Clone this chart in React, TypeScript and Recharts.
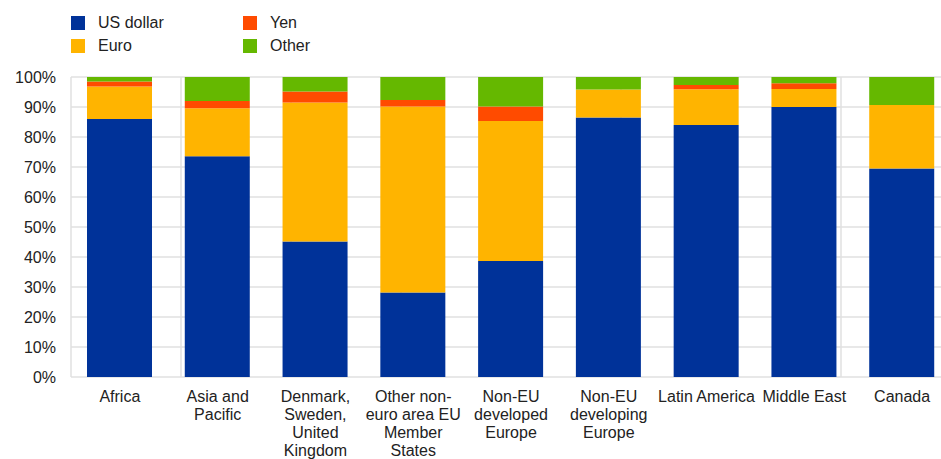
import { BarChart, Bar, XAxis, YAxis, CartesianGrid } from 'recharts';

const regions = [
  'Africa',
  'Asia and Pacific',
  'Denmark, Sweden, United Kingdom',
  'Other non-euro area EU Member States',
  'Non-EU developed Europe',
  'Non-EU developing Europe',
  'Latin America',
  'Middle East',
  'Canada',
];

// how each category label is wrapped under the axis
const regionLines = [
  ['Africa'],
  ['Asia and', 'Pacific'],
  ['Denmark,', 'Sweden,', 'United', 'Kingdom'],
  ['Other non-', 'euro area EU', 'Member', 'States'],
  ['Non-EU', 'developed', 'Europe'],
  ['Non-EU', 'developing', 'Europe'],
  ['Latin America'],
  ['Middle East'],
  ['Canada'],
];

const usDollar = [86.0, 73.6, 45.2, 28.2, 38.7, 86.5, 84.0, 90.0, 69.5];
const euro = [10.8, 16.0, 46.3, 62.0, 46.6, 9.3, 11.9, 6.0, 21.2];
const yen = [1.7, 2.4, 3.7, 2.1, 4.9, 0, 1.4, 1.9, 0];
const other = [1.5, 8.0, 4.8, 7.7, 9.8, 4.2, 2.7, 2.1, 9.3];

const yTicks = [0, 10, 20, 30, 40, 50, 60, 70, 80, 90, 100];
const boundaryTicks = [0, 1, 2, 3, 4, 5, 6, 7, 8, 9];

const series = [
  { key: 'usd', name: 'US dollar', color: '#003299' },
  { key: 'eur', name: 'Euro', color: '#FFB400' },
  { key: 'jpy', name: 'Yen', color: '#FF4B00' },
  { key: 'oth', name: 'Other', color: '#65B800' },
];

const data = regions.map((r, i) => ({
  region: r,
  usd: usDollar[i],
  eur: euro[i],
  jpy: yen[i],
  oth: other[i],
}));

const FONT = '"Liberation Sans", Arial, sans-serif';

function RegionTick({ x, y, index }: { x?: number; y?: number; index?: number }) {
  const lines = regionLines[index ?? 0] ?? [];
  return (
    <text x={x} y={y} textAnchor="middle" fill="#222" fontSize={16} fontFamily={FONT}>
      {lines.map((l, i) => (
        <tspan key={i} x={x} dy={i === 0 ? 25 : 18}>
          {l}
        </tspan>
      ))}
    </text>
  );
}

function LegendBox() {
  // two columns, filled top to bottom
  const cols = [series.slice(0, 2), series.slice(2, 4)];
  return (
    <div style={{ position: 'absolute', left: 71, top: 11, display: 'flex', fontFamily: FONT, fontSize: 16, color: '#222' }}>
      {cols.map((col, c) => (
        <div key={c} style={{ width: 172 }}>
          {col.map((s) => (
            <div key={s.key} style={{ display: 'flex', alignItems: 'center', height: 23 }}>
              <span style={{ width: 14, height: 14, background: s.color, marginRight: 13 }} />
              {s.name}
            </div>
          ))}
        </div>
      ))}
    </div>
  );
}

export default function App() {
  return (
    <div style={{ position: 'absolute', left: 0, top: 0, width: 941, height: 459, overflow: 'hidden', background: '#fff' }}>
      <LegendBox />
      <BarChart
        width={951}
        height={459}
        data={data}
        margin={{ top: 77, right: 0, bottom: 0, left: 0 }}
        barSize={65}
      >
        <CartesianGrid xAxisId="grid" stroke="#e0e0e0" strokeWidth={1.5} />
        <XAxis
          dataKey="region"
          height={82}
          axisLine={false}
          tickLine={false}
          tickSize={0}
          tickMargin={0}
          interval={0}
          tick={<RegionTick />}
        />
        <XAxis xAxisId="grid" type="number" domain={[0, 9]} ticks={boundaryTicks} hide />
        <YAxis
          width={71}
          domain={[0, 100]}
          ticks={yTicks}
          allowDataOverflow
          axisLine={false}
          tickLine={false}
          tickSize={0}
          tickMargin={15}
          tickFormatter={(v) => `${v}%`}
          tick={{ fontSize: 16, fill: '#222', fontFamily: FONT }}
        />
        {series.map((s) => (
          <Bar key={s.key} dataKey={s.key} name={s.name} stackId="a" fill={s.color} isAnimationActive={false} />
        ))}
      </BarChart>
    </div>
  );
}
